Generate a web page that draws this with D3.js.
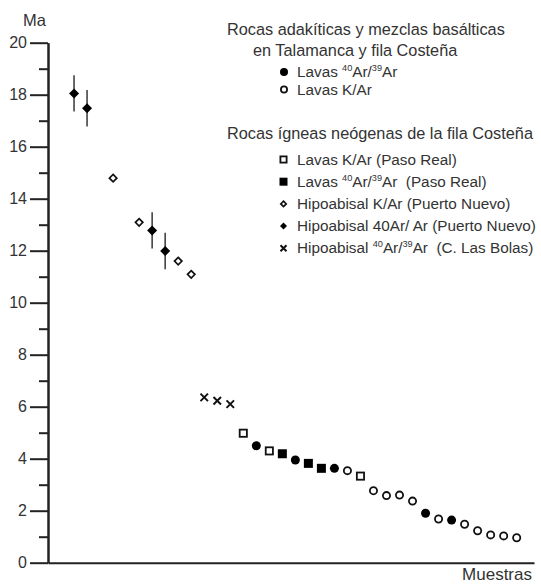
<!DOCTYPE html>
<html><head><meta charset="utf-8">
<script src="https://cdn.jsdelivr.net/npm/d3@7"></script>
<style>
html,body{margin:0;padding:0;background:#fff;}
svg{display:block;font-family:"Liberation Sans",Arial,sans-serif;}
text{white-space:pre;}
</style></head>
<body>
<script>
// ---- Data (sample order along "Muestras", age in Ma) ----
const yTicksMajor = [0,2,4,6,8,10,12,14,16,18,20];
const yTicksMinor = [1,3,5,7,9,11,13,15,17,19];

// Rocas adakíticas y mezclas basálticas en Talamanca y fila Costeña
const lavasArAr_x = [14,17,20,27,29];
const lavasArAr_y = [4.50,3.95,3.63,1.90,1.64];
const lavasKAr_x  = [21,23,24,25,26,28,30,31,32,33,34];
const lavasKAr_y  = [3.54,2.77,2.58,2.60,2.37,1.68,1.48,1.23,1.07,1.03,0.96];

// Rocas ígneas neógenas de la fila Costeña
const pasoKAr_x  = [13,15,22];
const pasoKAr_y  = [4.98,4.30,3.33];
const pasoArAr_x = [16,18,19];
const pasoArAr_y = [4.19,3.82,3.63];
const pnKAr_x    = [3,5,8,9];
const pnKAr_y    = [14.79,13.09,11.60,11.09];
const pnArAr_x   = [0,1,6,7];
const pnArAr_y   = [18.05,17.48,12.78,11.99];
const pnArAr_err = [0.70,0.70,0.70,0.70];
const cbArAr_x   = [10,11,12];
const cbArAr_y   = [6.36,6.23,6.10];

const W = 541, H = 585;
const svg = d3.select("body").append("svg").attr("width",W).attr("height",H);

const x = d3.scaleLinear().domain([-2,35.33]).range([48,534]);
const y = d3.scaleLinear().domain([0,20]).range([562.7,42.7]);

const ink = "#222";
const txt = "#333";

// ---- Axes ----
const gMinor = svg.append("g").attr("transform",`translate(${x(-2)},0)`)
  .call(d3.axisLeft(y).tickValues(yTicksMinor).tickSize(9).tickSizeOuter(0).tickFormat(""));
const gMajor = svg.append("g").attr("transform",`translate(${x(-2)},0)`)
  .call(d3.axisLeft(y).tickValues(yTicksMajor).tickSize(18).tickSizeOuter(0).tickPadding(3));
[gMinor,gMajor].forEach(g=>{
  g.selectAll("path,line").attr("stroke",ink).attr("stroke-width",2);
});
gMajor.selectAll("text").attr("fill",txt).attr("font-size",16).attr("font-family","Liberation Sans, Arial, sans-serif");

const gx = svg.append("g").attr("transform",`translate(0,${y(0)})`)
  .call(d3.axisBottom(x).tickValues([]).tickSizeOuter(0));
gx.select("path").attr("stroke",ink).attr("stroke-width",2);

svg.append("text").attr("x",46).attr("y",26).attr("text-anchor","end")
  .attr("font-size",16.5).attr("fill",txt).text("Ma");
svg.append("text").attr("x",532).attr("y",580).attr("text-anchor","end")
  .attr("font-size",17).attr("fill",txt).text("Muestras");

// ---- symbol helpers ----
function drawSym(g, type, cx, cy, s){
  const h = s/2;
  if(type==="circleF"){
    g.append("circle").attr("cx",cx).attr("cy",cy).attr("r",h).attr("fill","#000");
  } else if(type==="circleO"){
    g.append("circle").attr("cx",cx).attr("cy",cy).attr("r",h-0.9).attr("fill","#fff").attr("stroke","#111").attr("stroke-width",1.8);
  } else if(type==="squareF"){
    g.append("rect").attr("x",cx-h).attr("y",cy-h).attr("width",s).attr("height",s).attr("fill","#000");
  } else if(type==="squareO"){
    g.append("rect").attr("x",cx-h+0.9).attr("y",cy-h+0.9).attr("width",s-1.8).attr("height",s-1.8).attr("fill","#fff").attr("stroke","#111").attr("stroke-width",1.8);
  } else if(type==="diamondF"){
    g.append("path").attr("d",`M${cx},${cy-h}L${cx+h},${cy}L${cx},${cy+h}L${cx-h},${cy}Z`).attr("fill","#000");
  } else if(type==="diamondO"){
    const k=h-0.8;
    g.append("path").attr("d",`M${cx},${cy-k}L${cx+k},${cy}L${cx},${cy+k}L${cx-k},${cy}Z`).attr("fill","#fff").attr("stroke","#111").attr("stroke-width",1.7);
  } else if(type==="cross"){
    g.append("path").attr("d",`M${cx-h},${cy-h}L${cx+h},${cy+h}M${cx-h},${cy+h}L${cx+h},${cy-h}`).attr("stroke","#111").attr("stroke-width",2).attr("fill","none");
  }
}

// ---- error bars ----
const gErr = svg.append("g");
pnArAr_x.forEach((d,i)=>{
  gErr.append("line").attr("x1",x(d)).attr("x2",x(d))
    .attr("y1",y(pnArAr_y[i]+pnArAr_err[i])).attr("y2",y(pnArAr_y[i]-pnArAr_err[i]))
    .attr("stroke","#444").attr("stroke-width",1.6);
});

// ---- points ----
const series = [
  {xs:pnKAr_x, ys:pnKAr_y, t:"diamondO", s:9},
  {xs:pnArAr_x, ys:pnArAr_y, t:"diamondF", s:10},
  {xs:cbArAr_x, ys:cbArAr_y, t:"cross", s:7.5},
  {xs:pasoKAr_x, ys:pasoKAr_y, t:"squareO", s:9},
  {xs:pasoArAr_x, ys:pasoArAr_y, t:"squareF", s:9},
  {xs:lavasKAr_x, ys:lavasKAr_y, t:"circleO", s:9},
  {xs:lavasArAr_x, ys:lavasArAr_y, t:"circleF", s:9},
];
const gPts = svg.append("g");
series.forEach(se=>{
  se.xs.forEach((d,i)=>drawSym(gPts, se.t, x(d), y(se.ys[i]), se.s));
});

// ---- legend ----
const gL = svg.append("g").attr("fill",txt);
function legendSup(xp, yp, parts, fs){
  const t = gL.append("text").attr("x",xp).attr("y",yp).attr("font-size",fs);
  let raised=false;
  parts.forEach(p=>{
    if(typeof p==="string"){
      const ts=t.append("tspan").text(p);
      if(raised){ ts.attr("dy",fs*0.38); raised=false; }
    } else {
      t.append("tspan").attr("font-size",fs*0.6).attr("dy",raised?0:-fs*0.38).text(p.sup);
      raised=true;
    }
  });
}
const tFs = 16.3, iFs = 15.3;
gL.append("text").attr("x",227).attr("y",35).attr("font-size",tFs).text("Rocas adakíticas y mezclas basálticas");
gL.append("text").attr("x",253).attr("y",56).attr("font-size",tFs).text("en Talamanca y fila Costeña");
const legItems1 = [
  {t:"circleF", s:8, parts:["Lavas ",{sup:"40"},"Ar/",{sup:"39"},"Ar"]},
  {t:"circleO", s:8, parts:["Lavas K/Ar"]},
];
legItems1.forEach((it,i)=>{
  const yy = 77 + i*17.5;
  drawSym(gL, it.t, 284, yy-5, it.s);
  legendSup(297, yy, it.parts, iFs);
});
gL.append("text").attr("x",227).attr("y",139).attr("font-size",tFs).text("Rocas ígneas neógenas de la fila Costeña");
const legItems2 = [
  {t:"squareO", s:8, parts:["Lavas K/Ar (Paso Real)"]},
  {t:"squareF", s:8, parts:["Lavas ",{sup:"40"},"Ar/",{sup:"39"},"Ar  (Paso Real)"]},
  {t:"diamondO", s:7, parts:["Hipoabisal K/Ar (Puerto Nuevo)"]},
  {t:"diamondF", s:7, parts:["Hipoabisal 40Ar/ Ar (Puerto Nuevo)"]},
  {t:"cross", s:6, parts:["Hipoabisal ",{sup:"40"},"Ar/",{sup:"39"},"Ar  (C. Las Bolas)"]},
];
legItems2.forEach((it,i)=>{
  const yy = 164.5 + i*22.2;
  drawSym(gL, it.t, 283.5, yy-5, it.s);
  legendSup(297, yy, it.parts, iFs);
});
</script>
</body></html>
